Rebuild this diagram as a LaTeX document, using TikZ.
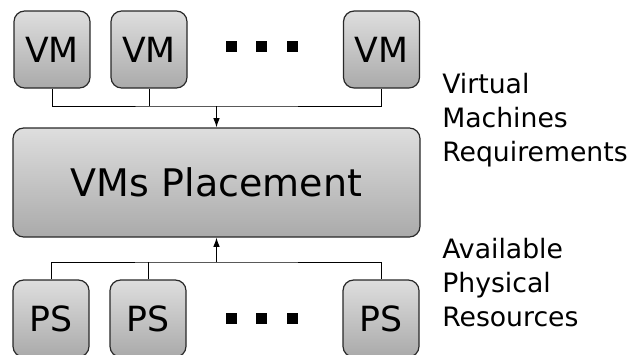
\documentclass[tikz,border=0pt]{standalone}
\usepackage{fontspec}
\setmainfont{DejaVu Sans}
\usetikzlibrary{arrows.meta}
\definecolor{boxtop}{RGB}{222,222,222}
\definecolor{boxbot}{RGB}{170,170,170}
\definecolor{boxline}{RGB}{40,40,40}
\tikzset{
  unitbox/.style={draw=boxline, line width=0.9pt, rounded corners=8pt,
    top color=boxtop, bottom color=boxbot, minimum width=57pt, minimum height=57.75pt,
    inner sep=0pt, font=\fontsize{26}{30}\selectfont},
  bigbox/.style={unitbox, minimum width=305.25pt, minimum height=81.75pt,
    font=\fontsize{28.5}{33}\selectfont},
  sidetext/.style={anchor=north west, align=left, inner sep=0pt,
    font=\fontsize{20}{25.5}\selectfont},
  wire/.style={line width=0.75pt},
  feed/.style={wire, -{Latex[length=7pt,width=5pt]}},
}
\begin{document}
\begin{tikzpicture}[x=0.75pt,y=0.75pt,yscale=-1]
	\useasboundingbox (0,0) rectangle (636,354);
	
	% virtual machines
	\node[unitbox] (vm1) at (52,49.5) {VM};
	\node[unitbox] (vm2) at (149,49.5) {VM};
	\node[unitbox] (vm3) at (381.5,49.5) {VM};
	% placement
	\node[bigbox] (place) at (216.5,182.5) {VMs Placement};
	% physical servers
	\node[unitbox] (ps1) at (51,318.5) {PS};
	\node[unitbox] (ps2) at (148,318.5) {PS};
	\node[unitbox] (ps3) at (381,318.5) {PS};
	
	% dots
	\foreach \dx in {231.5,261.5,292} {
		\fill (\dx-5.5,41) rectangle (\dx+5.5,52);
		\fill (\dx-5.5,312.5) rectangle (\dx+5.5,323.5);
	}
	
	% wiring
	\coordinate (topbus) at (216.5,106);
	\coordinate (botbus) at (216.5,262);
	\draw[wire] (vm1.south) |- (topbus) -| (vm3.south);
	\draw[wire] (vm2.south) -- (vm2.south |- topbus);
	\draw[feed] (topbus) -- (place.north);
	\draw[wire] (ps1.north) |- (botbus) -| (ps3.north);
	\draw[wire] (ps2.north) -- (ps2.north |- botbus);
	\draw[feed] (botbus) -- (place.south);
	
	% side text
	\node[sidetext] (vmreq) at (442,73) {Virtual\\Machines\\Requirements};
	\node[sidetext] (psres) at (442,238) {Available\\Physical\\Resources};
	
\end{tikzpicture}
\end{document}
